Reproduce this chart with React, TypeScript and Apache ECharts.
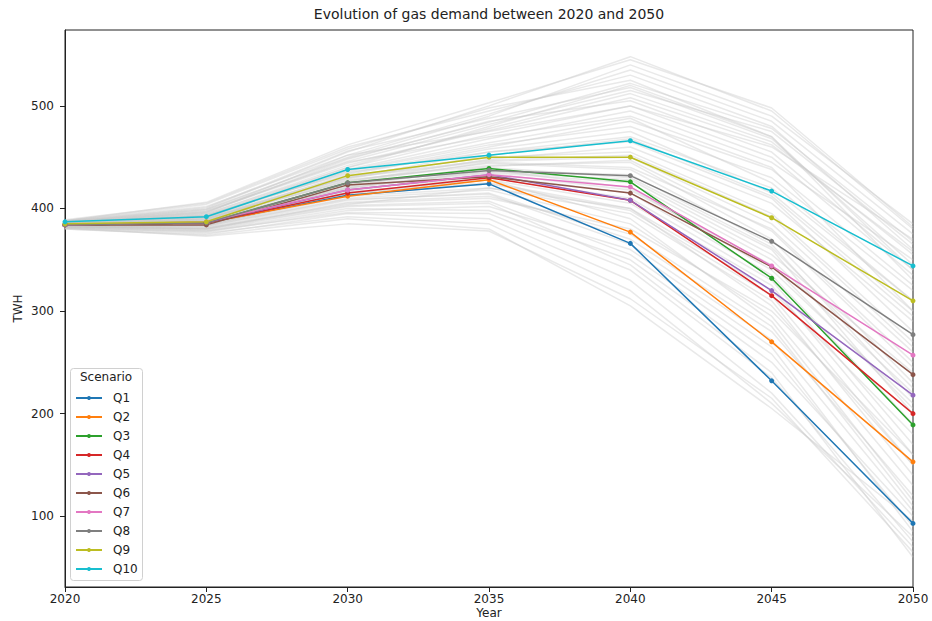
import React, { useEffect, useRef } from "react";
import * as echarts from "echarts";

const years = [2020, 2025, 2030, 2035, 2040, 2045, 2050];
const scenarioNames = ["Q1", "Q2", "Q3", "Q4", "Q5", "Q6", "Q7", "Q8", "Q9", "Q10"];
const scenarioColors = ["#1f77b4", "#ff7f0e", "#2ca02c", "#d62728", "#9467bd", "#8c564b", "#e377c2", "#7f7f7f", "#bcbd22", "#17becf"];

const q1 = [384, 386, 413, 424, 366, 232, 93];
const q2 = [384, 386, 412, 428, 377, 270, 153];
const q3 = [384, 386, 425, 439, 426, 332, 189];
const q4 = [384, 386, 415, 430, 408, 315, 200];
const q5 = [384, 386, 418, 433, 408, 320, 218];
const q6 = [384, 384, 423, 431, 415, 343, 238];
const q7 = [384, 387, 418, 433, 421, 344, 257];
const q8 = [384, 386, 425, 437, 432, 368, 277];
const q9 = [385, 387, 432, 450, 450, 391, 310];
const q10 = [387, 392, 438, 452, 466, 417, 344];
const scenarioValues = [q1, q2, q3, q4, q5, q6, q7, q8, q9, q10];

const yTickValues = [100, 200, 300, 400, 500];

// background ensemble of simulated trajectories (grey)
const ensemble = [
  [386, 395, 440, 480, 520, 470, 330],
  [384, 388, 425, 445, 440, 380, 250],
  [382, 380, 405, 410, 380, 300, 160],
  [388, 400, 455, 500, 548, 495, 380],
  [385, 390, 430, 455, 470, 420, 310],
  [383, 384, 415, 425, 400, 320, 180],
  [387, 398, 445, 470, 490, 440, 300],
  [381, 378, 400, 398, 350, 250, 100],
  [386, 392, 432, 450, 455, 395, 270],
  [384, 386, 420, 435, 425, 350, 220],
  [389, 405, 460, 495, 530, 480, 360],
  [380, 375, 395, 390, 330, 220, 70],
  [385, 389, 428, 442, 445, 370, 230],
  [383, 383, 412, 420, 395, 310, 140],
  [387, 396, 448, 485, 505, 455, 340],
  [382, 381, 408, 415, 370, 280, 120],
  [386, 393, 436, 462, 480, 430, 320],
  [384, 387, 422, 440, 430, 360, 200],
  [388, 402, 452, 475, 500, 460, 370],
  [381, 377, 398, 402, 360, 265, 85],
  [385, 391, 426, 448, 460, 405, 290],
  [383, 385, 418, 432, 415, 335, 190],
  [386, 394, 438, 468, 495, 445, 350],
  [382, 379, 402, 405, 345, 240, 60],
  [384, 388, 424, 438, 420, 340, 210],
  [387, 399, 450, 490, 540, 490, 385],
  [383, 382, 410, 418, 385, 295, 130],
  [385, 390, 433, 458, 475, 415, 300],
  [384, 386, 419, 430, 410, 330, 170],
  [386, 395, 442, 478, 512, 465, 355],
  [381, 376, 392, 385, 320, 210, 80],
  [385, 392, 430, 446, 450, 385, 260],
  [383, 384, 414, 428, 405, 325, 160],
  [388, 404, 458, 498, 525, 470, 340],
  [382, 380, 406, 412, 375, 285, 110],
  [386, 393, 435, 455, 465, 410, 280],
  [384, 387, 421, 436, 428, 355, 240],
  [387, 397, 446, 482, 515, 475, 365],
  [380, 374, 390, 380, 305, 205, 95],
  [385, 390, 427, 444, 438, 365, 215],
  [386, 396, 452, 492, 535, 485, 375],
  [383, 381, 404, 420, 400, 305, 150],
  [385, 393, 440, 472, 500, 450, 335],
  [384, 385, 416, 428, 390, 290, 115],
  [387, 401, 456, 488, 518, 468, 345],
  [382, 378, 396, 395, 340, 235, 75],
  [386, 394, 434, 460, 485, 438, 325],
  [384, 389, 423, 441, 447, 378, 245],
  [388, 406, 462, 503, 545, 498, 382],
  [381, 373, 385, 378, 312, 215, 65],
  [385, 391, 429, 452, 468, 412, 295],
  [383, 386, 417, 434, 418, 345, 205],
  [386, 397, 444, 476, 508, 462, 358],
  [382, 383, 409, 414, 365, 272, 105],
  [385, 389, 431, 447, 452, 392, 265],
  [384, 384, 413, 424, 398, 315, 150],
  [387, 399, 449, 484, 522, 478, 368],
  [383, 380, 403, 407, 355, 258, 90],
  [386, 392, 437, 464, 488, 425, 310],
  [384, 388, 420, 437, 433, 362, 225],
];

const FONT = "DejaVu Sans";

export default function App() {
  const ref = useRef<HTMLDivElement>(null);
  useEffect(() => {
    if (!ref.current) return;
    const chart = echarts.init(ref.current, undefined, { renderer: "svg" });
    const greySeries = ensemble.map((vals, i) => ({
      name: "sim" + i,
      type: "line",
      data: years.map((y, j) => [y, vals[j]]),
      symbol: "none",
      silent: true,
      z: 1,
      lineStyle: { color: "rgba(200,200,200,0.4)", width: 1.5 },
      emphasis: { disabled: true },
    }));
    const mainSeries = scenarioNames.map((n, i) => ({
      name: n,
      type: "line",
      data: years.map((y, j) => [y, scenarioValues[i][j]]),
      symbol: "circle",
      symbolSize: 5,
      z: 3,
      color: scenarioColors[i],
      lineStyle: { color: scenarioColors[i], width: 1.5 },
      itemStyle: { color: scenarioColors[i] },
      emphasis: { disabled: true },
    }));
    chart.setOption({
      animation: false,
      textStyle: { fontFamily: FONT },
      title: {
        text: "Evolution of gas demand between 2020 and 2050",
        left: 489,
        top: 7,
        padding: 0,
        textAlign: "center",
        textStyle: { fontFamily: FONT, fontSize: 14, fontWeight: "normal", color: "#222" },
      },
      grid: {
        left: 65,
        right: 19,
        top: 30,
        bottom: 34,
        outerBoundsMode: "none",
        containLabel: false,
        show: true,
        borderColor: "#222",
        borderWidth: 1,
        backgroundColor: "transparent",
      },
      xAxis: {
        type: "value",
        min: 2020,
        max: 2050,
        interval: 5,
        name: "Year",
        nameLocation: "middle",
        nameGap: 19,
        nameMoveOverlap: false,
        nameTextStyle: { fontFamily: FONT, fontSize: 12, lineHeight: 13, color: "#222" },
        axisLine: { lineStyle: { color: "#222", width: 1 } },
        axisTick: { show: true, length: 5, lineStyle: { color: "#222" } },
        axisLabel: { fontFamily: FONT, fontSize: 12, color: "#222", margin: 6, formatter: (v: number) => String(v) },
        splitLine: { show: false },
      },
      yAxis: {
        type: "value",
        min: 31,
        max: 574,
        name: "TWH",
        nameLocation: "middle",
        nameGap: 41,
        nameMoveOverlap: false,
        nameTextStyle: { fontFamily: FONT, fontSize: 12, color: "#222" },
        axisLine: { show: true, lineStyle: { color: "#222", width: 1 } },
        axisTick: { show: true, length: 5, customValues: yTickValues, lineStyle: { color: "#222" } },
        axisLabel: { fontFamily: FONT, fontSize: 12, color: "#222", margin: 11, customValues: yTickValues },
        splitLine: { show: false },
      },
      legend: {
        data: scenarioNames,
        orient: "vertical",
        left: 75,
        top: 391,
        padding: 0,
        itemWidth: 26,
        itemHeight: 5,
        itemGap: 5,
        z: 5,
        textStyle: { fontFamily: FONT, fontSize: 12, color: "#222", lineHeight: 14, padding: [0, 0, 0, 6] },
      },
      graphic: [
        {
          type: "rect",
          left: 70,
          top: 368,
          z: 4,
          shape: { width: 72, height: 212, r: 3 },
          style: { fill: "rgba(255,255,255,0.85)", stroke: "#d0d0d0", lineWidth: 1 },
        },
        {
          type: "text",
          left: 80,
          top: 371,
          z: 5,
          style: { text: "Scenario", font: `12px '${FONT}'`, fill: "#222" },
        },
      ],
      series: [...greySeries, ...mainSeries],
    });
    return () => chart.dispose();
  }, []);
  return <div ref={ref} style={{ width: 932, height: 621, position: "absolute", left: 0, top: 0 }} />;
}
